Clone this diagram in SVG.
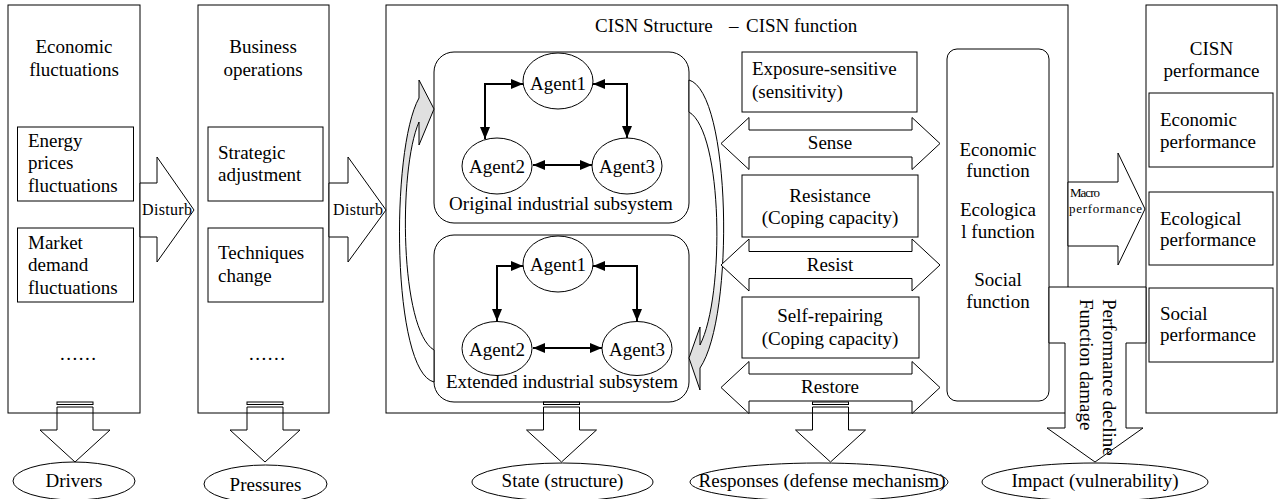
<svg xmlns="http://www.w3.org/2000/svg" width="1278" height="499" viewBox="0 0 1278 499">
<style>
  .bx{fill:none;stroke:#000;stroke-width:1}
  .wt{fill:#fff;stroke:#000;stroke-width:1}
  .lk{fill:none;stroke:#000;stroke-width:2;marker-start:url(#tip);marker-end:url(#tip)}
  text{font-family:"Liberation Serif","Times New Roman",Times,serif;font-size:19px;fill:#000}
  .m{text-anchor:middle}
  .d{font-size:16px}
  .s{font-size:13px}
</style>
<defs>
  <marker id="tip" viewBox="0 0 12 10" refX="12" refY="5" markerWidth="12" markerHeight="10" markerUnits="userSpaceOnUse" orient="auto-start-reverse">
    <path d="M0,0L12,5L0,10Z" fill="#000"/>
  </marker>
  <!-- striped down arrow, centred on x=0 -->
  <g id="drop" class="bx">
    <rect x="-18" y="402" width="36" height="2.5"/>
    <path d="M-18,407H18V430H35L0,462L-35,430H-18Z"/>
  </g>
  <!-- two-headed block arrow, left tip at origin -->
  <path id="dbl" class="wt" d="M0,0L28,-26V-13.5H191V-26L219,0L191,26V13.5H28V26Z"/>
  <linearGradient id="shadeTop" gradientUnits="userSpaceOnUse" x1="0" y1="80" x2="0" y2="390">
    <stop offset="0" stop-color="#e0e0e0"/>
    <stop offset="0.3" stop-color="#e0e0e0"/>
    <stop offset="0.42" stop-color="#fff"/>
    <stop offset="1" stop-color="#fff"/>
  </linearGradient>
  <linearGradient id="shadeBottom" gradientUnits="userSpaceOnUse" x1="0" y1="80" x2="0" y2="390">
    <stop offset="0" stop-color="#fff"/>
    <stop offset="0.6" stop-color="#fff"/>
    <stop offset="0.72" stop-color="#e0e0e0"/>
    <stop offset="1" stop-color="#e0e0e0"/>
  </linearGradient>
</defs>

<rect width="1278" height="499" fill="#fff"/>

<!-- Drivers column -->
<g id="drivers-panel">
  <rect class="bx" x="8" y="5" width="132" height="408"/>
  <text class="m" x="74" y="53">Economic</text>
  <text class="m" x="74" y="75.5">fluctuations</text>
  <rect class="bx" x="17.5" y="127" width="116" height="74"/>
  <text x="28" y="146.5">Energy</text>
  <text x="28" y="169">prices</text>
  <text x="28" y="191.5">fluctuations</text>
  <rect class="bx" x="17.5" y="228" width="116" height="74"/>
  <text x="28" y="248.5">Market</text>
  <text x="28" y="271">demand</text>
  <text x="28" y="293.5">fluctuations</text>
  <text class="m" x="78" y="360" textLength="36">......</text>
</g>

<!-- Pressures column -->
<g id="pressures-panel">
  <rect class="bx" x="198" y="5" width="131" height="408"/>
  <text class="m" x="263" y="53">Business</text>
  <text class="m" x="263" y="75.5">operations</text>
  <rect class="bx" x="208" y="127" width="115" height="74"/>
  <text x="218" y="158.5">Strategic</text>
  <text x="218" y="180.5">adjustment</text>
  <rect class="bx" x="208" y="228" width="115" height="74"/>
  <text x="218" y="259">Techniques</text>
  <text x="218" y="281.5">change</text>
  <text class="m" x="267" y="360" textLength="36">......</text>
</g>

<!-- CISN structure / function frame -->
<g id="cisn-panel">
  <rect class="bx" x="386" y="5" width="682" height="408"/>
  <text y="32"><tspan x="595">CISN Structure</tspan><tspan x="729">–</tspan><tspan x="746">CISN function</tspan></text>
</g>

<g id="original-subsystem">
  <rect class="bx" x="434" y="52" width="255" height="171" rx="20"/>
  <ellipse class="wt" cx="558" cy="81" rx="35" ry="28"/>
  <ellipse class="wt" cx="497" cy="166" rx="35" ry="28"/>
  <ellipse class="wt" cx="627" cy="166" rx="35" ry="28"/>
  <text class="m" x="558" y="90">Agent1</text>
  <text class="m" x="497" y="173">Agent2</text>
  <text class="m" x="627" y="173">Agent3</text>
  <text class="m" x="561" y="210">Original industrial subsystem</text>
</g>

<g id="extended-subsystem">
  <rect class="bx" x="434" y="235" width="255" height="167" rx="20"/>
  <ellipse class="wt" cx="558" cy="264" rx="35" ry="28"/>
  <ellipse class="wt" cx="497" cy="348.5" rx="35" ry="27"/>
  <ellipse class="wt" cx="637" cy="348.5" rx="35" ry="27"/>
  <text class="m" x="558" y="271">Agent1</text>
  <text class="m" x="497" y="356">Agent2</text>
  <text class="m" x="637" y="356">Agent3</text>
  <text class="m" x="562" y="388">Extended industrial subsystem</text>
</g>

<g id="exposure">
  <rect class="bx" x="742" y="52" width="175" height="60"/>
  <text x="752" y="75">Exposure-sensitive</text>
  <text x="752" y="97.5">(sensitivity)</text>
</g>
<g id="resistance">
  <rect class="bx" x="742" y="175" width="176" height="62"/>
  <text class="m" x="830" y="201.5">Resistance</text>
  <text class="m" x="830" y="224">(Coping capacity)</text>
</g>
<g id="self-repairing">
  <rect class="bx" x="742" y="297" width="177" height="61"/>
  <text class="m" x="830" y="321.5">Self-repairing</text>
  <text class="m" x="830" y="344.5">(Coping capacity)</text>
</g>

<g id="functions">
  <rect class="bx" x="947" y="49" width="102" height="352" rx="10"/>
  <text class="m" x="998" y="155.5">Economic</text>
  <text class="m" x="998" y="177">function</text>
  <text class="m" x="998" y="216">Ecologica</text>
  <text class="m" x="998" y="237.5">l function</text>
  <text class="m" x="998" y="286">Social</text>
  <text class="m" x="998" y="308">function</text>
</g>

<!-- CISN performance column -->
<g id="performance-panel">
  <rect class="bx" x="1146" y="5" width="131" height="408"/>
  <text class="m" x="1211.5" y="55">CISN</text>
  <text class="m" x="1211.5" y="77">performance</text>
  <rect class="bx" x="1149" y="93" width="124" height="74"/>
  <text x="1160" y="126">Economic</text>
  <text x="1160" y="148">performance</text>
  <rect class="bx" x="1149" y="192" width="124" height="73"/>
  <text x="1160" y="225">Ecological</text>
  <text x="1160" y="246">performance</text>
  <rect class="bx" x="1149" y="288" width="124" height="74"/>
  <text x="1160" y="320">Social</text>
  <text x="1160" y="341">performance</text>
</g>

<!-- DPSIR outcome labels -->
<g id="drivers"><ellipse class="bx" cx="74" cy="481" rx="61" ry="19"/><text class="m" x="74" y="487">Drivers</text></g>
<g id="pressures"><ellipse class="bx" cx="265.5" cy="484" rx="61.5" ry="19"/><text class="m" x="265.5" y="491">Pressures</text></g>
<g id="state"><ellipse class="bx" cx="562.5" cy="482" rx="90.5" ry="19"/><text class="m" x="562.5" y="487">State (structure)</text></g>
<g id="responses"><ellipse class="bx" cx="819" cy="482" rx="129" ry="19"/><text class="m" x="822" y="487">Responses (defense mechanism)</text></g>
<g id="impact"><ellipse class="bx" cx="1095" cy="482" rx="113" ry="19"/><text class="m" x="1095" y="487">Impact (vulnerability)</text></g>

<!-- connectors -->
<g id="connectors">
  <!-- agent links -->
  <path class="lk" d="M485,139V84H523"/>
  <path class="lk" d="M593,84H627V138"/>
  <path class="lk" d="M533,165H592"/>
  <path class="lk" d="M497,321V266H523"/>
  <path class="lk" d="M593,266H637V321"/>
  <path class="lk" d="M533,348H602"/>

  <!-- feedback between the two subsystems -->
  <path fill="url(#shadeTop)" stroke="#000" stroke-width="1" d="M434,382C392,372 390,150 419,98L419,80L434,109L419,145L419,122C398,170 400,330 434,350Z"/>
  <path fill="url(#shadeBottom)" stroke="#000" stroke-width="1" d="M689,80C731,92 735,316 700,368L700,390L689,358L700,327L700,345C725,296 723,132 689,112Z"/>

  <!-- disturbances -->
  <path class="wt" d="M140,183H157V157L194,210L157,262V237H140Z"/>
  <text class="d" x="142" y="215" textLength="50">Disturb</text>
  <path class="wt" d="M329,183H348V157L386,210L348,262V237H329Z"/>
  <text class="d" x="333" y="215" textLength="50">Disturb</text>

  <!-- responses -->
  <use href="#dbl" x="721" y="143.5"/>
  <text class="m" x="830" y="149">Sense</text>
  <use href="#dbl" x="721" y="265"/>
  <text class="m" x="830" y="270.5">Resist</text>
  <use href="#dbl" x="721" y="387.5"/>
  <text class="m" x="830" y="392.5">Restore</text>

  <!-- macro performance -->
  <path class="wt" d="M1068,182H1118V153L1145,209L1118,265V246H1068Z"/>
  <text class="s" x="1070" y="197" textLength="30">Macro</text>
  <text class="s" x="1069" y="213" textLength="73">performance</text>

  <!-- impact arrow -->
  <path class="wt" d="M1049,287H1146V343H1126V428H1143L1095,462L1047,428H1065V343H1049Z"/>
  <text transform="translate(1103,299) rotate(90)">Performance decline</text>
  <text transform="translate(1080,299) rotate(90)">Function damage</text>

  <!-- outputs to the DPSIR labels -->
  <use href="#drop" x="75"/>
  <use href="#drop" x="265"/>
  <use href="#drop" x="561.5"/>
  <use href="#drop" x="830.5"/>
</g>
</svg>
